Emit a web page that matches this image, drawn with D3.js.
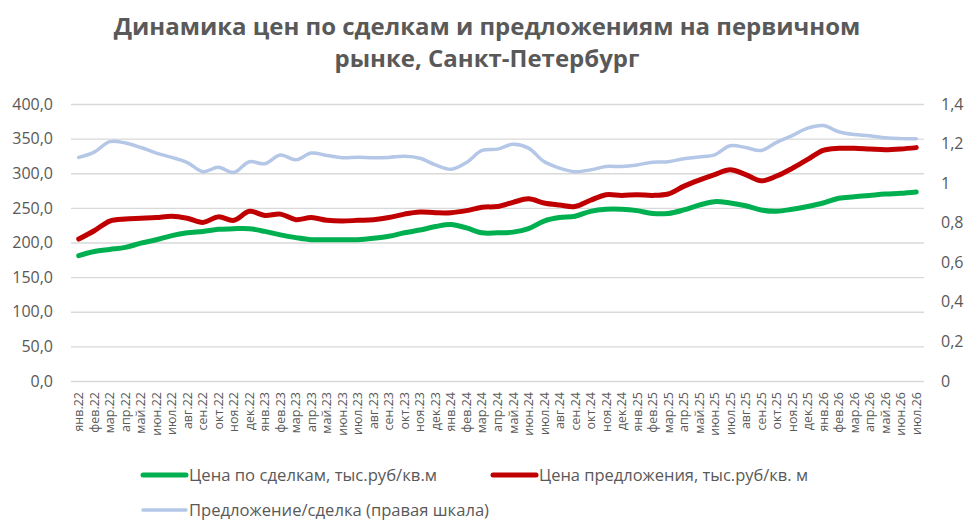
<!DOCTYPE html>
<html>
<head>
<meta charset="utf-8">
<script src="https://cdn.jsdelivr.net/npm/d3@7"></script>
<style>
  body { margin: 0; background: #fff; }
  svg { display: block; font-family: "Open Sans", sans-serif; }
</style>
</head>
<body>
<div id="chart"></div>
<script>
// categories (months)
const months = [
  "янв.22","фев.22","мар.22","апр.22","май.22","июн.22","июл.22","авг.22","сен.22","окт.22","ноя.22","дек.22",
  "янв.23","фев.23","мар.23","апр.23","май.23","июн.23","июл.23","авг.23","сен.23","окт.23","ноя.23","дек.23",
  "янв.24","фев.24","мар.24","апр.24","май.24","июн.24","июл.24","авг.24","сен.24","окт.24","ноя.24","дек.24",
  "янв.25","фев.25","мар.25","апр.25","май.25","июн.25","июл.25","авг.25","сен.25","окт.25","ноя.25","дек.25",
  "янв.26","фев.26","мар.26","апр.26","май.26","июн.26","июл.26"
];

// Цена по сделкам, тыс.руб/кв.м (left axis)
const dealPrice = [
  181, 187, 190, 193, 199, 204, 210, 214, 216, 219, 220, 220,
  216, 211, 207, 204, 204, 204, 204, 206, 209, 214, 218, 223,
  226, 221, 214, 214, 215, 220, 231, 236, 238, 245, 248, 248,
  246, 242, 242, 247, 254, 259, 257, 253, 247, 245, 248, 252,
  257, 264, 266, 268, 270, 271, 273
];

// Цена предложения, тыс.руб/кв. м (left axis)
const offerPrice = [
  205, 217, 231, 234, 235, 236, 238, 235, 229, 237, 232, 245,
  239, 241, 233, 236, 232, 231, 232, 233, 236, 241, 244, 243,
  243, 246, 251, 252, 258, 263, 257, 254, 252, 261, 269, 268,
  269, 268, 270, 281, 290, 298, 305, 298, 289, 296, 307, 320,
  333, 336, 336, 335, 334, 335, 337
];

// Предложение/сделка (right axis)
const ratio = [
  1.130, 1.157, 1.210, 1.203, 1.180, 1.152, 1.130, 1.104, 1.058, 1.080, 1.054, 1.108,
  1.098, 1.142, 1.118, 1.152, 1.140, 1.128, 1.131, 1.128, 1.130, 1.136, 1.126, 1.092,
  1.070, 1.104, 1.165, 1.172, 1.196, 1.177, 1.109, 1.076, 1.058, 1.067, 1.084, 1.084,
  1.092, 1.106, 1.108, 1.123, 1.132, 1.143, 1.189, 1.180, 1.165, 1.206, 1.240, 1.278,
  1.291, 1.260, 1.246, 1.240, 1.229, 1.225, 1.224
];

const leftTicks = [0, 50, 100, 150, 200, 250, 300, 350, 400];
const rightTicks = [0, 0.2, 0.4, 0.6, 0.8, 1, 1.2, 1.4];

const titleLines = ["Динамика цен по сделкам и предложениям на первичном", "рынке, Санкт-Петербург"];
const seriesNames = ["Цена по сделкам, тыс.руб/кв.м", "Цена предложения, тыс.руб/кв. м", "Предложение/сделка (правая шкала)"];

const W = 973, H = 532;
const plot = { left: 71, right: 924, top: 104, bottom: 381 };
const textColor = "#595959";
const gridColor = "#d9d9d9";

const ru = d3.formatLocale({ decimal: ",", thousands: " ", grouping: [3], currency: ["", " ₽"] });
const fmtLeft = ru.format(".1f");
const fmtRight = ru.format("~g");

const svg = d3.select("#chart").append("svg")
  .attr("width", W)
  .attr("height", H);

svg.append("rect").attr("width", W).attr("height", H).attr("fill", "#fff");

const x = d3.scaleBand().domain(months).range([plot.left, plot.right]);
const yL = d3.scaleLinear().domain([0, 400]).range([plot.bottom, plot.top]);
const yR = d3.scaleLinear().domain([0, 1.4]).range([plot.bottom, plot.top]);
const cx = d => x(d) + x.bandwidth() / 2;

// Title
const title = svg.append("g")
  .attr("fill", textColor)
  .attr("font-weight", 700)
  .attr("text-anchor", "middle");
const t1 = title.append("text")
  .attr("x", 487).attr("y", 35)
  .attr("font-size", 24)
  .text(titleLines[0]);
let fs = 24 * 747 / t1.node().getComputedTextLength();
t1.attr("font-size", fs);
title.append("text")
  .attr("x", 487).attr("y", 67)
  .attr("font-size", fs)
  .text(titleLines[1]);

// Gridlines
svg.append("g")
  .attr("transform", `translate(${plot.left},0)`)
  .call(d3.axisLeft(yL).tickValues(leftTicks).tickSize(-(plot.right - plot.left)).tickFormat(""))
  .call(g => g.select(".domain").remove())
  .call(g => g.selectAll("line").attr("stroke", gridColor).attr("stroke-width", 1.3));

// Left axis
svg.append("g")
  .attr("transform", `translate(${plot.left},0)`)
  .call(d3.axisLeft(yL).tickValues(leftTicks).tickSize(0).tickPadding(18).tickFormat(fmtLeft))
  .call(g => g.select(".domain").remove())
  .call(g => g.selectAll("text").attr("fill", textColor).attr("font-size", 16).attr("font-family", "Open Sans"));

// Right axis
svg.append("g")
  .attr("transform", `translate(${plot.right},0)`)
  .call(d3.axisRight(yR).tickValues(rightTicks).tickSize(0).tickPadding(17).tickFormat(fmtRight))
  .call(g => g.select(".domain").remove())
  .call(g => g.selectAll("text").attr("fill", textColor).attr("font-size", 16).attr("font-family", "Open Sans"));

// Bottom axis
svg.append("g")
  .attr("transform", `translate(0,${plot.bottom})`)
  .call(d3.axisBottom(x).tickSize(0))
  .call(g => g.select(".domain").remove())
  .call(g => g.selectAll("text")
    .attr("fill", textColor)
    .attr("font-size", 12.5)
    .attr("font-family", "Open Sans")
    .attr("transform", "rotate(-90)")
    .attr("x", -11)
    .attr("y", 0)
    .attr("dy", "0.36em")
    .style("text-anchor", "end"));

// Lines
const lineL = d3.line().x((d, i) => cx(months[i])).y(d => yL(d)).curve(d3.curveCatmullRom.alpha(0.5));
const lineR = d3.line().x((d, i) => cx(months[i])).y(d => yR(d)).curve(d3.curveCatmullRom.alpha(0.5));

svg.append("path")
  .attr("d", lineR(ratio))
  .attr("fill", "none")
  .attr("stroke", "#b4c7e7")
  .attr("stroke-width", 3.5)
  .attr("stroke-linecap", "round")
  .attr("stroke-linejoin", "round");

svg.append("path")
  .attr("d", lineL(dealPrice))
  .attr("fill", "none")
  .attr("stroke", "#00b050")
  .attr("stroke-width", 5)
  .attr("stroke-linecap", "round")
  .attr("stroke-linejoin", "round");

svg.append("path")
  .attr("d", lineL(offerPrice))
  .attr("fill", "none")
  .attr("stroke", "#c00000")
  .attr("stroke-width", 5)
  .attr("stroke-linecap", "round")
  .attr("stroke-linejoin", "round");

// Legend
const legendItems = [
  { name: seriesNames[0], color: "#00b050", w: 5, x: 143, y: 475, len: 248 },
  { name: seriesNames[1], color: "#c00000", w: 5, x: 493, y: 475, len: 269 },
  { name: seriesNames[2], color: "#b4c7e7", w: 3.5, x: 143, y: 510, len: 300 }
];
const leg = svg.append("g");
legendItems.forEach(it => {
  leg.append("line")
    .attr("x1", it.x).attr("x2", it.x + 43)
    .attr("y1", it.y).attr("y2", it.y)
    .attr("stroke", it.color)
    .attr("stroke-width", it.w)
    .attr("stroke-linecap", "round");
  leg.append("text")
    .attr("x", it.x + 46)
    .attr("y", it.y + 6)
    .attr("font-size", 16)
    .attr("fill", textColor)
    .attr("textLength", it.len)
    .attr("lengthAdjust", "spacingAndGlyphs")
    .text(it.name);
});
</script>
</body>
</html>
